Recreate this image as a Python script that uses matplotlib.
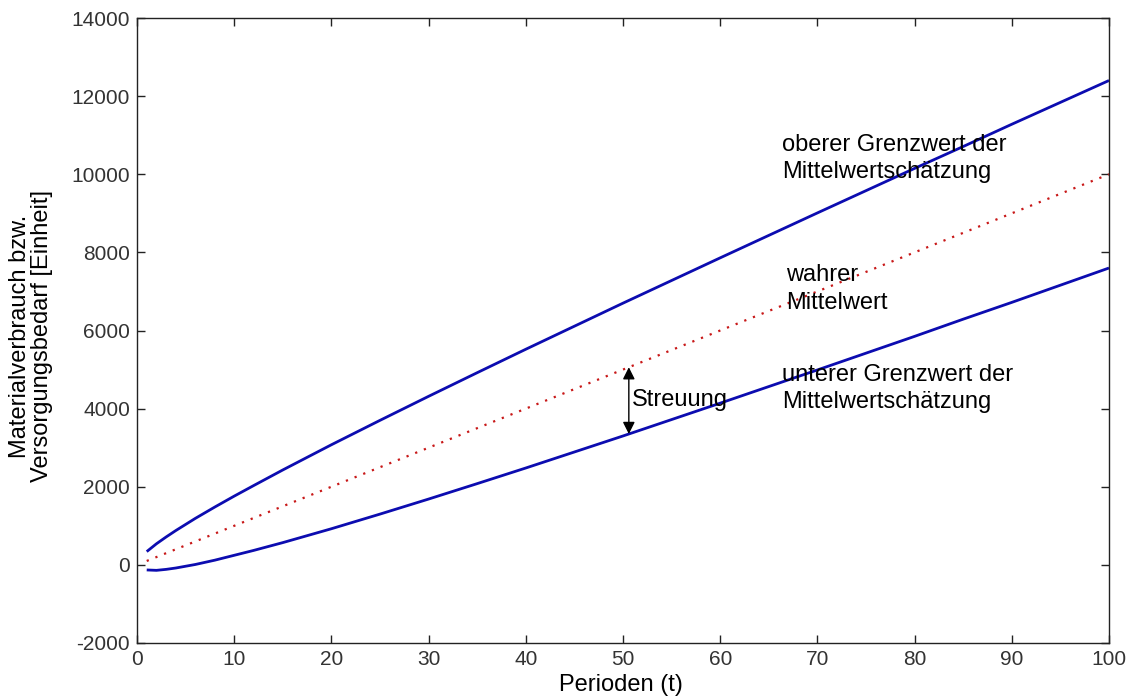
import matplotlib
matplotlib.use("Agg")
import matplotlib.pyplot as plt

plt.rcParams['font.family'] = ['Liberation Sans', 'DejaVu Sans']
plt.rcParams['axes.unicode_minus'] = False

# Periods and estimated bounds of the mean-value estimate
perioden = [1, 2, 3, 4, 5, 6, 8, 10, 12, 15, 20, 25, 30, 35, 40, 45, 50,
            55, 60, 65, 70, 75, 80, 85, 90, 95, 100]
oberer = [340, 540, 715, 880, 1035, 1190, 1480, 1760, 2030, 2430, 3075,
          3700, 4315, 4920, 5520, 6110, 6700, 7280, 7860, 8435, 9010,
          9580, 10150, 10710, 11280, 11840, 12400]
unterer = [-130, -140, -115, -80, -35, 10, 120, 245, 370, 570, 925, 1300,
           1685, 2080, 2480, 2890, 3300, 3720, 4140, 4565, 4990, 5420,
           5850, 6290, 6720, 7160, 7600]
mittel_t = [1, 100]
mittelwert = [100, 10000]

streuung_t = 50.6
streuung_oben = 5060
streuung_unten = 3350

xticks = list(range(0, 101, 10))
yticks = list(range(-2000, 14001, 2000))

W, H = 1129, 700
fig = plt.figure(figsize=(W / 100, H / 100), dpi=100)
ax = fig.add_axes([137 / W, 1 - 643 / H, (1109 - 137) / W, (643 - 18) / H])

blue = '#0c0cb0'
ax.plot(perioden, oberer, color=blue, lw=2.0, solid_capstyle='butt')
ax.plot(perioden, unterer, color=blue, lw=2.0, solid_capstyle='butt')
ax.plot(mittel_t, mittelwert, color='#c81818', lw=1.6, ls=(0, (1, 3.2)))

ax.annotate('', xy=(streuung_t, streuung_unten), xytext=(streuung_t, streuung_oben),
            arrowprops=dict(arrowstyle='<|-|>', color='black', lw=1.0,
                            mutation_scale=18, shrinkA=0, shrinkB=0))

fs = 17
ax.text(50.9, 4220, 'Streuung', fontsize=fs, va='center', ha='left')
ax.text(66.4, 10740, 'oberer Grenzwert der', fontsize=fs, va='center', ha='left')
ax.text(66.4, 10050, 'Mittelwertschätzung', fontsize=fs, va='center', ha='left')
ax.text(66.8, 7420, 'wahrer', fontsize=fs, va='center', ha='left')
ax.text(66.8, 6700, 'Mittelwert', fontsize=fs, va='center', ha='left')
ax.text(66.4, 4860, 'unterer Grenzwert der', fontsize=fs, va='center', ha='left')
ax.text(66.4, 4170, 'Mittelwertschätzung', fontsize=fs, va='center', ha='left')

ax.set_xlim(0, 100)
ax.set_ylim(-2000, 14000)
ax.set_xticks(xticks)
ax.set_yticks(yticks)
ax.tick_params(direction='in', length=6, width=1, top=True, right=True,
               labelsize=15, colors='#222222', labelcolor='#333333', pad=5)
for s in ax.spines.values():
    s.set_color('#222222')
    s.set_linewidth(1.0)

fig.text(621 / W, 1 - 685 / H, 'Perioden (t)', fontsize=fs, ha='center', va='center')
fig.text(31 / W, 1 - 336 / H, 'Materialverbrauch bzw.\nVersorgungsbedarf [Einheit]',
         fontsize=fs, rotation=90, ha='center', va='center', multialignment='center',
         linespacing=0.95)

fig.savefig('out.png', dpi=100, facecolor='white')
